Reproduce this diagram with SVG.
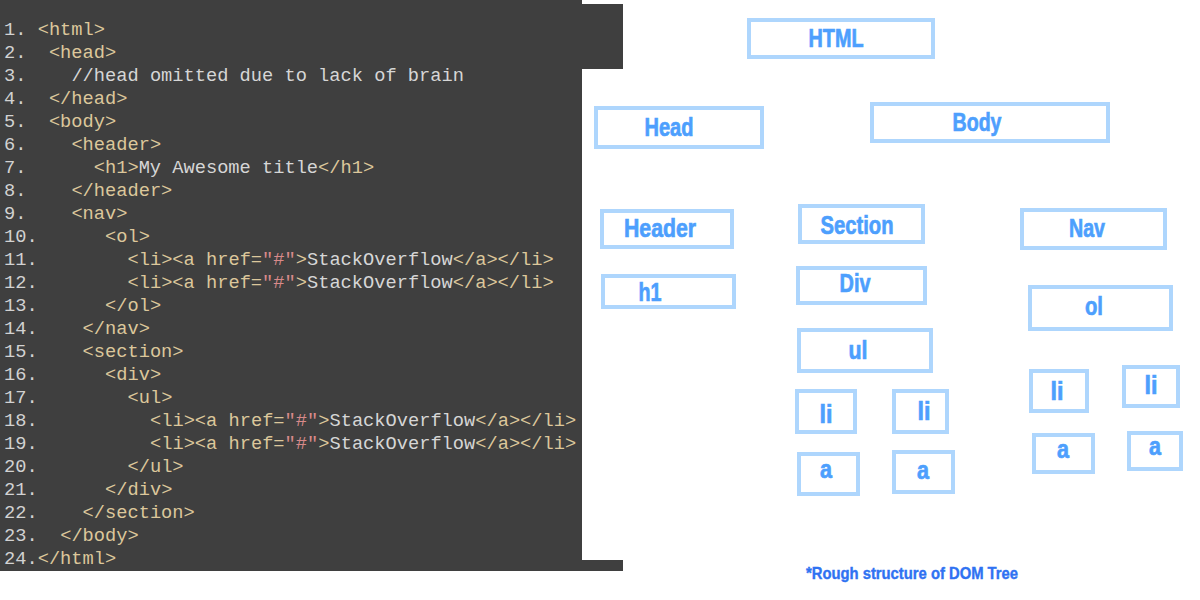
<svg xmlns="http://www.w3.org/2000/svg" width="1200" height="600" viewBox="0 0 1200 600">
<style>
.num{font-family:"Liberation Mono","DejaVu Sans Mono",monospace;font-size:18.7px;fill:#d2d2d2}
.code{font-family:"Liberation Mono","DejaVu Sans Mono",monospace;font-size:18.7px;fill:#d6cba8}
.t{fill:#dcc79b}
.s{fill:#d6d6d6}
.q{fill:#d88a8a}
.box{fill:#fff;stroke:#aed6fd;stroke-width:4}
.lbl{font-family:"Liberation Sans","DejaVu Sans",sans-serif;font-weight:bold;font-size:26px;fill:#4d9ffd;stroke:#4d9ffd;stroke-width:0.7;text-anchor:middle}
.foot{font-family:"Liberation Sans","DejaVu Sans",sans-serif;font-weight:bold;font-size:16.5px;fill:#2f72f2;stroke:#2f72f2;stroke-width:0.4;text-anchor:middle}
</style>
<rect width="1200" height="600" fill="#fff"/>
<g id="code-panel">
<rect x="0" y="0" width="582" height="571" fill="#3f3f3f"/>
<rect x="582" y="4" width="41" height="65" fill="#3f3f3f"/>
<rect x="582" y="560" width="41" height="11" fill="#3f3f3f"/>
<g class="num">
<text x="4" y="35">1.</text><text x="4" y="58">2.</text><text x="4" y="81">3.</text><text x="4" y="104">4.</text>
<text x="4" y="127">5.</text><text x="4" y="150">6.</text><text x="4" y="173">7.</text><text x="4" y="196">8.</text>
<text x="4" y="219">9.</text><text x="4" y="242">10.</text><text x="4" y="265">11.</text><text x="4" y="288">12.</text>
<text x="4" y="311">13.</text><text x="4" y="334">14.</text><text x="4" y="357">15.</text><text x="4" y="380">16.</text>
<text x="4" y="403">17.</text><text x="4" y="426">18.</text><text x="4" y="449">19.</text><text x="4" y="472">20.</text>
<text x="4" y="495">21.</text><text x="4" y="518">22.</text><text x="4" y="541">23.</text><text x="4" y="564">24.</text>
</g>
<g class="code">
<text x="37.7" y="35" class="t">&lt;html&gt;</text>
<text x="48.9" y="58" class="t">&lt;head&gt;</text>
<text x="71.4" y="81" class="s">//head omitted due to lack of brain</text>
<text x="48.9" y="104" class="t">&lt;/head&gt;</text>
<text x="48.9" y="127" class="t">&lt;body&gt;</text>
<text x="71.4" y="150" class="t">&lt;header&gt;</text>
<text x="93.8" y="173"><tspan class="t">&lt;h1&gt;</tspan><tspan class="s">My Awesome title</tspan><tspan class="t">&lt;/h1&gt;</tspan></text>
<text x="71.4" y="196" class="t">&lt;/header&gt;</text>
<text x="71.4" y="219" class="t">&lt;nav&gt;</text>
<text x="105.1" y="242" class="t">&lt;ol&gt;</text>
<text x="127.5" y="265"><tspan class="t">&lt;li&gt;&lt;a href=</tspan><tspan class="q">"#"</tspan><tspan class="t">&gt;</tspan><tspan class="s">StackOverflow</tspan><tspan class="t">&lt;/a&gt;&lt;/li&gt;</tspan></text>
<text x="127.5" y="288"><tspan class="t">&lt;li&gt;&lt;a href=</tspan><tspan class="q">"#"</tspan><tspan class="t">&gt;</tspan><tspan class="s">StackOverflow</tspan><tspan class="t">&lt;/a&gt;&lt;/li&gt;</tspan></text>
<text x="105.1" y="311" class="t">&lt;/ol&gt;</text>
<text x="82.6" y="334" class="t">&lt;/nav&gt;</text>
<text x="82.6" y="357" class="t">&lt;section&gt;</text>
<text x="105.1" y="380" class="t">&lt;div&gt;</text>
<text x="127.5" y="403" class="t">&lt;ul&gt;</text>
<text x="150" y="426"><tspan class="t">&lt;li&gt;&lt;a href=</tspan><tspan class="q">"#"</tspan><tspan class="t">&gt;</tspan><tspan class="s">StackOverflow</tspan><tspan class="t">&lt;/a&gt;&lt;/li&gt;</tspan></text>
<text x="150" y="449"><tspan class="t">&lt;li&gt;&lt;a href=</tspan><tspan class="q">"#"</tspan><tspan class="t">&gt;</tspan><tspan class="s">StackOverflow</tspan><tspan class="t">&lt;/a&gt;&lt;/li&gt;</tspan></text>
<text x="127.5" y="472" class="t">&lt;/ul&gt;</text>
<text x="105.1" y="495" class="t">&lt;/div&gt;</text>
<text x="82.6" y="518" class="t">&lt;/section&gt;</text>
<text x="60.2" y="541" class="t">&lt;/body&gt;</text>
<text x="37.7" y="564" class="t">&lt;/html&gt;</text>
</g>
</g>
<g id="node-html"><rect class="box" x="749" y="20" width="184" height="37"/><text class="lbl" x="836" y="47" textLength="55" lengthAdjust="spacingAndGlyphs">HTML</text></g>
<g id="node-head"><rect class="box" x="596" y="108" width="166" height="39"/><text class="lbl" x="669" y="136" textLength="49" lengthAdjust="spacingAndGlyphs">Head</text></g>
<g id="node-body"><rect class="box" x="872" y="104" width="236" height="37"/><text class="lbl" x="977" y="131" textLength="49" lengthAdjust="spacingAndGlyphs">Body</text></g>
<g id="node-header"><rect class="box" x="602" y="211" width="130" height="36"/><text class="lbl" x="660" y="237" textLength="72" lengthAdjust="spacingAndGlyphs">Header</text></g>
<g id="node-h1"><rect class="box" x="603" y="276" width="131" height="31"/><text class="lbl" x="650" y="301" textLength="23" lengthAdjust="spacingAndGlyphs">h1</text></g>
<g id="node-section"><rect class="box" x="800" y="206" width="123" height="36"/><text class="lbl" x="857" y="234" textLength="73" lengthAdjust="spacingAndGlyphs">Section</text></g>
<g id="node-div"><rect class="box" x="798" y="268" width="127" height="35"/><text class="lbl" x="855" y="292" textLength="31" lengthAdjust="spacingAndGlyphs">Div</text></g>
<g id="node-ul"><rect class="box" x="799" y="330" width="132" height="41"/><text class="lbl" x="858" y="359" textLength="19" lengthAdjust="spacingAndGlyphs">ul</text></g>
<g id="node-nav"><rect class="box" x="1022" y="210" width="143" height="38"/><text class="lbl" x="1087" y="237" textLength="36" lengthAdjust="spacingAndGlyphs">Nav</text></g>
<g id="node-ol"><rect class="box" x="1030" y="287" width="141" height="42"/><text class="lbl" x="1094" y="315" textLength="18" lengthAdjust="spacingAndGlyphs">ol</text></g>
<g id="node-li1"><rect class="box" x="797" y="391" width="58" height="41"/><text class="lbl" x="826" y="423" textLength="13" lengthAdjust="spacingAndGlyphs">li</text></g>
<g id="node-li2"><rect class="box" x="894" y="391" width="53" height="41"/><text class="lbl" x="924" y="420" textLength="13" lengthAdjust="spacingAndGlyphs">li</text></g>
<g id="node-a1"><rect class="box" x="799" y="454" width="59" height="40"/><text class="lbl" x="826" y="478" textLength="12" lengthAdjust="spacingAndGlyphs">a</text></g>
<g id="node-a2"><rect class="box" x="894" y="452" width="59" height="40"/><text class="lbl" x="923" y="479" textLength="12" lengthAdjust="spacingAndGlyphs">a</text></g>
<g id="node-li3"><rect class="box" x="1031" y="371" width="56" height="40"/><text class="lbl" x="1057" y="400" textLength="13" lengthAdjust="spacingAndGlyphs">li</text></g>
<g id="node-li4"><rect class="box" x="1124" y="367" width="54" height="39"/><text class="lbl" x="1151" y="394" textLength="13" lengthAdjust="spacingAndGlyphs">li</text></g>
<g id="node-a3"><rect class="box" x="1034" y="435" width="59" height="37"/><text class="lbl" x="1063" y="458" textLength="12" lengthAdjust="spacingAndGlyphs">a</text></g>
<g id="node-a4"><rect class="box" x="1129" y="433" width="52" height="36"/><text class="lbl" x="1155" y="455" textLength="12" lengthAdjust="spacingAndGlyphs">a</text></g>
<g id="connectors"></g>
<text class="foot" x="912" y="579" textLength="212" lengthAdjust="spacingAndGlyphs">*Rough structure of DOM Tree</text>
</svg>
